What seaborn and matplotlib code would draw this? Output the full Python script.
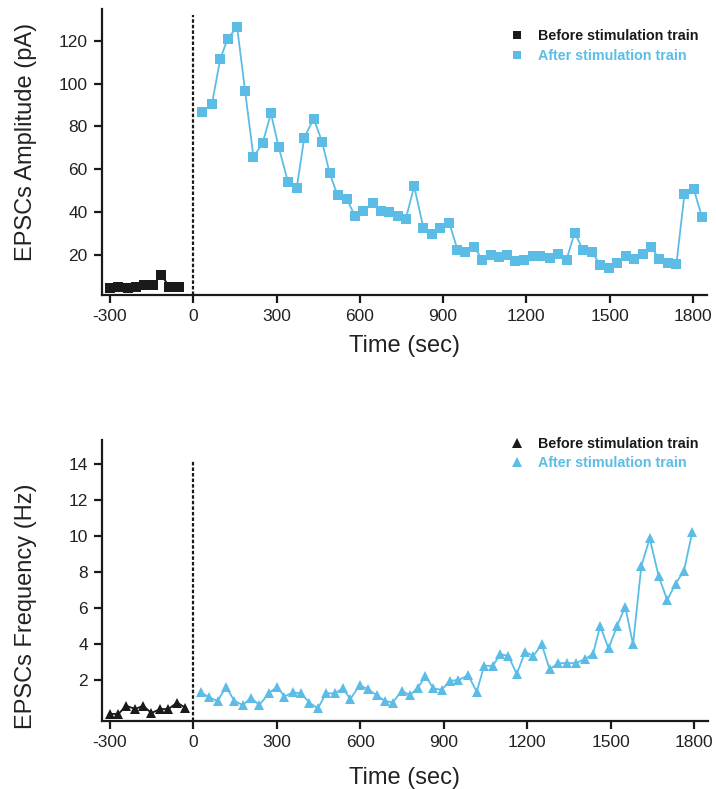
import matplotlib
matplotlib.use("Agg")
import matplotlib.pyplot as plt
import seaborn as sns
from matplotlib.lines import Line2D

# ---- EPSC amplitude (pA) ----
amp_before_t = [-300, -271, -235, -205, -176, -146, -116, -86, -53]
amp_before = [4.5, 5.0, 4.5, 5.0, 5.5, 5.5, 10.5, 5.0, 5.0]
amp_after_t = [33, 67, 97, 124, 158, 187, 217, 250, 280, 308,
               341, 373, 400, 434, 464, 491, 520, 554, 583, 611,
               646, 676, 705, 736, 766, 796, 829, 859, 888, 922,
               952, 979, 1012, 1042, 1072, 1101, 1132, 1161, 1191, 1224,
               1251, 1284, 1316, 1345, 1374, 1405, 1435, 1467, 1499, 1528,
               1558, 1587, 1619, 1650, 1678, 1711, 1741, 1770, 1803, 1833]
amp_after = [86.8, 90.3, 111.5, 121.2, 126.6, 96.4, 65.6, 72.3, 86.1, 70.2,
             54.2, 51.3, 74.8, 83.6, 72.9, 58.4, 47.7, 45.8, 38.0, 40.3,
             44.1, 40.3, 39.7, 37.9, 36.8, 51.9, 32.6, 29.4, 32.6, 35.0,
             22.3, 21.2, 23.5, 17.6, 19.6, 18.8, 19.6, 17.0, 17.6, 19.2,
             19.2, 18.5, 20.1, 17.6, 30.2, 22.0, 21.2, 15.3, 13.9, 16.2,
             19.3, 18.1, 20.4, 23.5, 18.1, 16.2, 15.7, 48.5, 50.8, 37.5]

# ---- EPSC frequency (Hz) ----
freq_before_t = [-300, -270, -241, -210, -181, -151, -120, -90, -59, -30]
freq_before = [0.15, 0.15, 0.6, 0.42, 0.6, 0.2, 0.42, 0.42, 0.78, 0.5]
freq_after_t = [27, 57, 87, 117, 147, 177, 207, 237, 271, 301,
                327, 357, 387, 417, 447, 477, 507, 537, 564, 597,
                627, 658, 688, 717, 748, 778, 808, 834, 862, 892,
                922, 952, 988, 1018, 1045, 1076, 1103, 1132, 1162, 1192,
                1222, 1252, 1280, 1312, 1342, 1375, 1406, 1436, 1462, 1492,
                1523, 1552, 1580, 1610, 1640, 1672, 1703, 1733, 1763, 1793]
freq_after = [1.34, 1.06, 0.86, 1.65, 0.87, 0.64, 1.04, 0.64, 1.30, 1.65,
              1.11, 1.34, 1.28, 0.78, 0.45, 1.30, 1.28, 1.56, 0.97, 1.74,
              1.52, 1.19, 0.87, 0.78, 1.43, 1.19, 1.61, 2.25, 1.56, 1.48,
              1.98, 2.02, 2.29, 1.37, 2.81, 2.81, 3.45, 3.36, 2.35, 3.58,
              3.36, 4.0, 2.62, 2.96, 2.96, 2.96, 3.18, 3.45, 5.02, 3.77,
              5.02, 6.09, 4.0, 8.33, 9.86, 7.78, 6.44, 7.36, 8.06, 10.21]

series_labels = ["Before stimulation train", "After stimulation train"]
x_ticks = [-300, 0, 300, 600, 900, 1200, 1500, 1800]
amp_ticks = [20, 40, 60, 80, 100, 120]
freq_ticks = [2, 4, 6, 8, 10, 12, 14]

BLACK = "#1a1a1a"
BLUE = "#5bbde6"
TEXT = "#222222"

sns.set_style("ticks")
plt.rcParams["font.family"] = ["Liberation Sans", "DejaVu Sans"]

fig = plt.figure(figsize=(7.16, 7.89), dpi=100)
ax1 = fig.add_axes([0.142, 0.626, 0.845, 0.3625])
ax2 = fig.add_axes([0.142, 0.086, 0.847, 0.3563])


def draw_panel(ax, tb, yb, ta, ya, marker, ms, ylim, yticks, ylabel,
               dash_top, ylabel_y, xlabel_pad, legend_xy, legend_ms):
    sns.lineplot(x=tb, y=yb, ax=ax, color=BLACK, marker=marker, markersize=ms,
                 markeredgewidth=0, linewidth=1.3, sort=False, legend=False)
    sns.lineplot(x=ta, y=ya, ax=ax, color=BLUE, marker=marker, markersize=ms,
                 markeredgewidth=0, linewidth=1.3, sort=False, legend=False)
    ax.vlines(0, ylim[0], dash_top, colors=BLACK, linestyles=(0, (1.6, 0.9)),
              linewidth=1.6, zorder=1)
    ax.set_xlim(-330, 1850)
    ax.set_ylim(*ylim)
    ax.set_xticks(x_ticks)
    ax.set_xticklabels([str(v) for v in x_ticks])
    ax.set_yticks(yticks)
    ax.set_yticklabels([str(v) for v in yticks])
    for side in ("top", "right"):
        ax.spines[side].set_visible(False)
    for side in ("left", "bottom"):
        ax.spines[side].set_linewidth(1.6)
        ax.spines[side].set_color(BLACK)
    ax.tick_params(axis="both", direction="out", length=6, width=1.6,
                   color=BLACK, labelsize=12.5, labelcolor=TEXT, pad=4)
    ax.set_xlabel("Time (sec)", fontsize=17, color=TEXT)
    ax.set_ylabel(ylabel, fontsize=17, color=TEXT)
    ax.yaxis.set_label_coords(-0.107, ylabel_y)
    ax.xaxis.labelpad = xlabel_pad

    handles = [Line2D([], [], color=c, marker=marker, linestyle="none",
                      markersize=legend_ms, markeredgewidth=0)
               for c in (BLACK, BLUE)]
    leg = ax.legend(handles, series_labels, loc="upper left",
                    bbox_to_anchor=legend_xy, bbox_transform=fig.transFigure,
                    frameon=False, borderpad=0, borderaxespad=0,
                    handlelength=1.0, handletextpad=0.95, labelspacing=0.4,
                    prop={"weight": "bold", "size": 10.3})
    for txt, c in zip(leg.get_texts(), (BLACK, BLUE)):
        txt.set_color(c)


draw_panel(ax1, amp_before_t, amp_before, amp_after_t, amp_after,
           "s", 7.2, (1, 135), amp_ticks, "EPSCs Amplitude (pA)",
           132, 0.535, 8, (0.712, 0.963), 5.5)
draw_panel(ax2, freq_before_t, freq_before, freq_after_t, freq_after,
           "^", 7.5, (-0.25, 15.3), freq_ticks, "EPSCs Frequency (Hz)",
           14.2, 0.41, 12, (0.712, 0.4465), 6.5)

fig.savefig("out.png", dpi=100)
